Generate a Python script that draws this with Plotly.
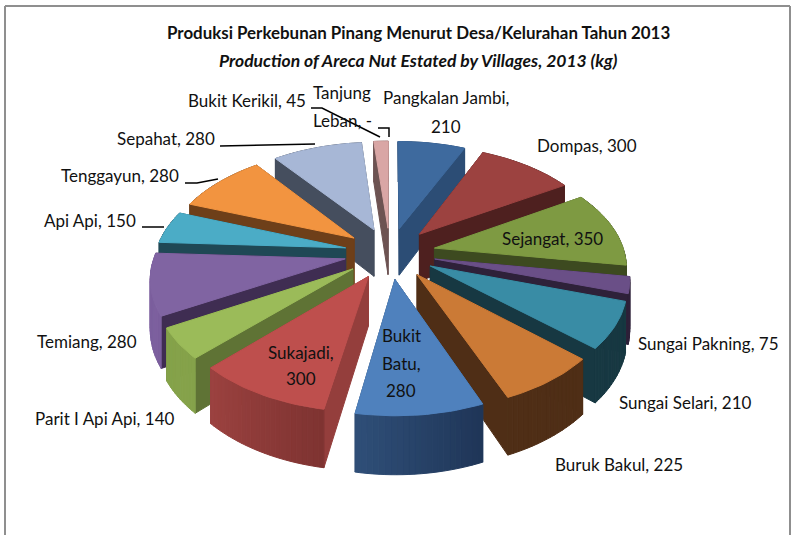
import math
import plotly.graph_objects as go

villages = ["Pangkalan Jambi", "Dompas", "Sejangat", "Sungai Pakning", "Sungai Selari", "Buruk Bakul",
            "Bukit Batu", "Sukajadi", "Parit I Api Api", "Temiang", "Api Api", "Tenggayun", "Sepahat",
            "Bukit Kerikil", "Tanjung Leban"]
values = [210, 300, 350, 75, 210, 225, 280, 300, 140, 280, 150, 280, 280, 45, 0]
top_colors = ["#3E6A9E", "#9C4240", "#7E9A42", "#6A4F87", "#398CA5", "#CB7A36", "#4F81BD", "#BE4F4D",
              "#9BBB59", "#8064A2", "#4BACC6", "#F29440", "#A7B7D6", "#D9A6A5", "#D9A6A5"]
side_colors = ["#2C4D75", "#4E201F", "#3D4A20", "#2E2139", "#173842", "#4F2E16", "#2C4A6E", "#943E3C",
               "#5F7335", "#3F2D52", "#1F4855", "#6E3F19", "#454E5E", "#6D5352", "#6D5352"]
wall_start = ["#2C4D75", "#4E201F", "#3D4A20", "#2E2139", "#173842", "#4F2E16", "#1F3557", "#7E3331",
              "#85A24A", "#7C5F9E", "#1F4855", "#6E3F19", "#454E5E", "#6D5352", "#6D5352"]
wall_end = ["#2C4D75", "#4E201F", "#3D4A20", "#2E2139", "#173842", "#4F2E16", "#2F4F78", "#9C4240",
            "#85A24A", "#7C5F9E", "#1F4855", "#6E3F19", "#454E5E", "#6D5352", "#6D5352"]

title_lines = ["Produksi Perkebunan Pinang Menurut Desa/Kelurahan Tahun 2013",
               "Production of Areca Nut Estated by Villages, 2013 (kg)"]
label_text = [["Pangkalan Jambi,", "210"], ["Dompas, 300"], ["Sejangat, 350"], ["Sungai Pakning, 75"],
              ["Sungai Selari, 210"], ["Buruk Bakul, 225"], ["Bukit", "Batu,", "280"], ["Sukajadi,", "300"],
              ["Parit I Api Api, 140"], ["Temiang, 280"], ["Api Api, 150"], ["Tenggayun, 280"],
              ["Sepahat, 280"], ["Bukit Kerikil, 45"], ["Tanjung", "Leban, -"]]

# page-pixel placement of labels: (centre x, y of each line)
label_pos = [(446, [97, 126]), (587, [145]), (552, [238]), (708, [343]), (685, [402]), (619, [464]),
             (401, [335, 363, 390]), (301, [352, 378]), (105, [418]), (87, [341]), (90, [220]),
             (120, [175]), (166, [138]), (247, [100]), (342, [92, 120])]
leaders = [([220, 315], [146, 144]), ([185, 197, 218], [183, 183, 179]), ([142, 164], [227, 227]),
           ([311, 322, 380], [108, 108, 137]), ([378, 389, 389], [128, 128, 137])]

# projection of the tilted, exploded pie
CX, CY, RX, RY, PERSP, DEPTH, EXPLODE = 390, 253, 190, 107, 0.15, 48, 0.24


def project(u, v, low=False):
    s = 1 / (1 + PERSP * v)
    return CX + RX * u * s, CY - RY * v * s + (DEPTH * s if low else 0)


def mix(a, b, t):
    ca = [int(a[i:i + 2], 16) for i in (1, 3, 5)]
    cb = [int(b[i:i + 2], 16) for i in (1, 3, 5)]
    return "#%02x%02x%02x" % tuple(round(x + (y - x) * t) for x, y in zip(ca, cb))


def facing(nu, nv, pu, pv):
    """Positive when a wall with outward normal (nu, nv) at (pu, pv) faces the viewer."""
    return nu * (0 - pu) + nv * (-1 / PERSP - pv)


def poly(fig, pts, color, name):
    xs = [p[0] for p in pts] + [pts[0][0]]
    ys = [p[1] for p in pts] + [pts[0][1]]
    fig.add_trace(go.Scatter(x=xs, y=ys, mode="lines", fill="toself", fillcolor=color,
                             line=dict(color=color, width=1), name=name, hoverinfo="name",
                             showlegend=False))


fig = go.Figure()
total = sum(values)
slices = []
acc = 0
for i, val in enumerate(values):
    a0, a1 = acc / total * 2 * math.pi, (acc + val) / total * 2 * math.pi
    acc += val
    slices.append((i, a0, a1))

for i, a0, a1 in sorted(slices, key=lambda s: -math.cos((s[1] + s[2]) / 2)):
    if values[i] == 0:
        continue
    mid = (a0 + a1) / 2
    ex, ey = EXPLODE * math.sin(mid), EXPLODE * math.cos(mid)
    n = max(4, int((a1 - a0) * 40))
    angles = [a0 + (a1 - a0) * k / n for k in range(n + 1)]
    rim = [(ex + math.sin(t), ey + math.cos(t)) for t in angles]
    faces = []
    for end, nu, nv in ((rim[0], -math.cos(a0), math.sin(a0)), (rim[-1], math.cos(a1), -math.sin(a1))):
        pts = [project(ex, ey), project(*end), project(*end, low=True), project(ex, ey, low=True)]
        faces.append((facing(nu, nv, (ex + end[0]) / 2, (ey + end[1]) / 2), pts, side_colors[i]))
    for k in range(n):
        p, q = rim[k], rim[k + 1]
        t = (angles[k] + angles[k + 1]) / 2
        pts = [project(*p), project(*q), project(*q, low=True), project(*p, low=True)]
        faces.append((facing(math.sin(t), math.cos(t), (p[0] + q[0]) / 2, (p[1] + q[1]) / 2), pts,
                      mix(wall_start[i], wall_end[i], (k + .5) / n)))
    faces.sort(key=lambda f: f[0] > 0)
    for _, pts, color in faces:
        poly(fig, pts, color, villages[i])
    poly(fig, [project(ex, ey)] + [project(*p) for p in rim], top_colors[i], villages[i])

for lx, ly in leaders:
    fig.add_trace(go.Scatter(x=lx, y=ly, mode="lines", line=dict(color="#000000", width=1.5),
                             hoverinfo="skip", showlegend=False))

annotations = []
for lines, (x, ys) in zip(label_text, label_pos):
    for line, y in zip(lines, ys):
        annotations.append(dict(x=x, y=y, text=line, showarrow=False, xanchor="center", yanchor="middle",
                                font=dict(family="Lato", size=17, color="#111111")))
annotations.append(dict(x=418, y=32, text="<b>%s</b>" % title_lines[0], showarrow=False,
                        font=dict(family="Lato", size=16.9, color="#111111")))
annotations.append(dict(x=418, y=60, text="<b><i>%s</i></b>" % title_lines[1], showarrow=False,
                        font=dict(family="Lato", size=17.5, color="#111111")))

frame = dict(color="#8F8F8F", width=2)
fig.update_layout(
    width=791, height=535, margin=dict(l=0, r=0, t=0, b=0),
    paper_bgcolor="white", plot_bgcolor="white", showlegend=False,
    xaxis=dict(range=[0, 791], visible=False, fixedrange=True),
    yaxis=dict(range=[535, 0], visible=False, fixedrange=True),
    annotations=annotations,
    shapes=[dict(type="line", x0=5, x1=5, y0=6, y1=535, line=frame),
            dict(type="line", x0=5, x1=790, y0=6, y1=6, line=frame),
            dict(type="line", x0=790, x1=790, y0=6, y1=535, line=frame)],
)
fig.write_html("out.html", config=dict(displayModeBar=False),
               post_script="document.body.style.margin='0';document.body.style.overflow='hidden';")
